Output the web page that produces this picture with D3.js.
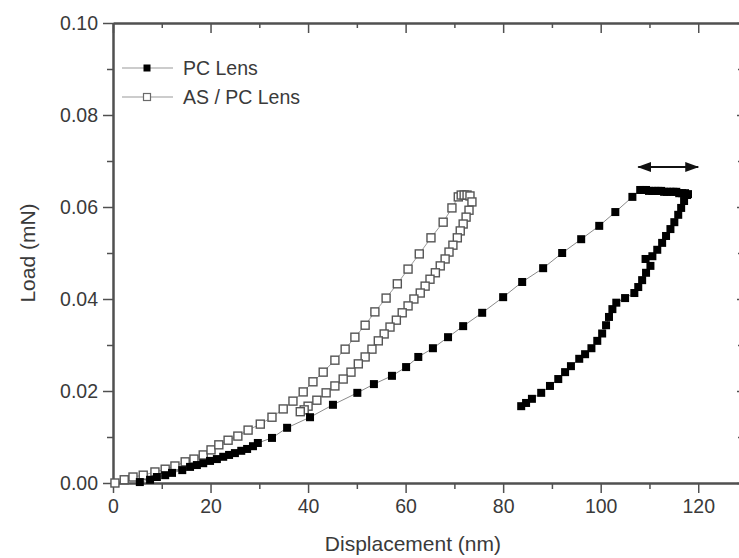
<!DOCTYPE html>
<html>
<head>
<meta charset="utf-8">
<script src="https://cdn.jsdelivr.net/npm/d3@7"></script>
<style>
  body { margin: 0; background: #fff; }
  svg { display: block; font-family: "Liberation Sans", Arial, sans-serif; }
</style>
</head>
<body>
<svg id="chart" width="739" height="558"></svg>
<script>
// PC Lens: loading, hold at max load, unloading
var pcX = [5.5, 7.6, 9.0, 10.7, 12.1, 14.2, 15.8, 17.2, 18.5, 19.9, 21.3, 22.6, 23.8, 25.0, 26.3, 27.5, 28.7, 29.7,
    32.6, 35.7, 40.4, 45.1, 50.1, 53.5, 57.2, 60.1, 62.6, 65.6, 68.7, 71.8, 75.7, 80.0, 83.9, 88.2, 92.1, 96.0, 99.7, 103.0, 106.5,
    108.1, 108.7, 109.3, 109.9, 110.6, 111.2, 111.8, 112.4, 113.0, 113.6, 114.3, 114.9, 115.5, 116.1, 116.7, 117.3, 117.9,
    117.7, 117.1, 116.5, 115.9, 115.1, 114.3, 113.4, 112.6, 111.6, 110.6, 109.2, 110.2, 109.3, 108.5, 107.7, 106.9,
    105.0, 103.2, 102.4, 101.7, 101.1, 100.3, 99.3, 98.1, 96.8, 95.6, 93.9, 92.7, 91.3, 89.6, 87.8, 85.9, 84.7, 83.7];
var pcY = [0.0002, 0.0007, 0.0013, 0.0017, 0.0022, 0.0028, 0.0035, 0.0039, 0.0043, 0.0048, 0.0052, 0.0057, 0.0061, 0.0065, 0.0070, 0.0074, 0.0080, 0.0087,
    0.0098, 0.0120, 0.0143, 0.0170, 0.0196, 0.0215, 0.0233, 0.0252, 0.0274, 0.0293, 0.0317, 0.0341, 0.0370, 0.0404, 0.0437, 0.0467, 0.0500, 0.0530, 0.0559, 0.0589, 0.0622,
    0.0637, 0.0637, 0.0637, 0.0635, 0.0635, 0.0635, 0.0635, 0.0635, 0.0633, 0.0633, 0.0633, 0.0633, 0.0633, 0.0630, 0.0630, 0.0630, 0.0628,
    0.0626, 0.0613, 0.0598, 0.0583, 0.0567, 0.0552, 0.0537, 0.0522, 0.0507, 0.0493, 0.0487, 0.0472, 0.0457, 0.0441, 0.0426, 0.0413,
    0.0402, 0.0392, 0.0378, 0.0361, 0.0343, 0.0325, 0.0309, 0.0293, 0.0280, 0.0270, 0.0254, 0.0241, 0.0226, 0.0211, 0.0196, 0.0183, 0.0174, 0.0167];

// AS / PC Lens
var asX = [0.4, 2.3, 4.1, 6.2, 8.6, 10.7, 12.7, 14.8, 16.6, 18.5, 20.1, 21.7, 23.6, 25.6, 27.7, 30.2, 32.6, 34.9, 36.9, 39.0,
    41.0, 43.1, 45.5, 47.6, 49.6, 51.7, 53.7, 56.0, 58.3, 60.5, 62.8, 65.2, 67.7, 69.5, 70.8,
    71.4, 72.0, 72.6, 73.2,
    73.6, 73.0, 72.4, 71.8, 71.2, 70.6, 69.7, 68.9, 68.1, 67.1, 66.1, 65.0, 64.0, 63.0, 61.7, 60.5, 59.3, 58.1, 56.8, 55.6,
    54.4, 53.1, 51.7, 50.3, 48.8, 47.2, 45.5, 43.7, 41.8, 40.0, 39.2, 38.4];
var asY = [0.0000, 0.0007, 0.0013, 0.0017, 0.0024, 0.0030, 0.0037, 0.0046, 0.0052, 0.0061, 0.0072, 0.0083, 0.0093, 0.0102, 0.0115, 0.0128, 0.0143, 0.0161, 0.0178, 0.0198,
    0.0220, 0.0241, 0.0267, 0.0291, 0.0317, 0.0343, 0.0372, 0.0402, 0.0433, 0.0465, 0.0498, 0.0533, 0.0567, 0.0598, 0.0622,
    0.0626, 0.0626, 0.0626, 0.0624,
    0.0611, 0.0593, 0.0578, 0.0563, 0.0548, 0.0533, 0.0517, 0.0502, 0.0487, 0.0472, 0.0457, 0.0443, 0.0428, 0.0413, 0.0400, 0.0385, 0.0370, 0.0354, 0.0339, 0.0324,
    0.0309, 0.0291, 0.0274, 0.0259, 0.0241, 0.0226, 0.0211, 0.0196, 0.0180, 0.0167, 0.0159, 0.0155];

var xTicks = [0, 20, 40, 60, 80, 100, 120];
var xMinor = [10, 30, 50, 70, 90, 110, 130];
var yTicks = [0, 0.02, 0.04, 0.06, 0.08, 0.10];
var yMinor = [0.01, 0.03, 0.05, 0.07, 0.09];
var seriesNames = ["PC Lens", "AS / PC Lens"];
var arrowX = [107.7, 120], arrowY = 0.0687;

var svg = d3.select("#chart"),
    margin = {top: 23, right: -8, bottom: 75, left: 113},
    width = +svg.attr("width") - margin.left - margin.right,
    height = +svg.attr("height") - margin.top - margin.bottom;

var x = d3.scaleLinear().domain([0, 130]).range([0, width]);
var y = d3.scaleLinear().domain([0, 0.10]).range([height, 0]);

var g = svg.append("g")
    .attr("transform", "translate(" + margin.left + "," + margin.top + ")");

var axisColor = "#505050", textColor = "#3a3a3a";

function styleAxis(sel) {
  sel.select(".domain").attr("stroke", axisColor).attr("stroke-width", 2);
  sel.selectAll(".tick line").attr("stroke", axisColor).attr("stroke-width", 1.5);
  sel.selectAll(".tick text").attr("fill", textColor).style("font-size", "19.5px");
}

// minor ticks first, so the major axes draw over them
g.append("g").attr("transform", "translate(0," + height + ")")
    .call(d3.axisBottom(x).tickValues(xMinor).tickSize(6).tickFormat("").tickSizeOuter(0))
    .call(styleAxis);
g.append("g")
    .call(d3.axisTop(x).tickValues(xMinor).tickSize(-5).tickFormat("").tickSizeOuter(0))
    .call(styleAxis);
g.append("g")
    .call(d3.axisLeft(y).tickValues(yMinor).tickSize(6).tickFormat("").tickSizeOuter(0))
    .call(styleAxis);
g.append("g").attr("transform", "translate(" + width + ",0)")
    .call(d3.axisRight(y).tickValues(yMinor).tickSize(-9).tickFormat("").tickSizeOuter(0))
    .call(styleAxis);

g.append("g")
    .attr("class", "x axis")
    .attr("transform", "translate(0," + height + ")")
    .call(d3.axisBottom(x).tickValues(xTicks).tickSize(10).tickPadding(6).tickSizeOuter(0))
    .call(styleAxis);
g.append("g")
    .call(d3.axisTop(x).tickValues(xTicks).tickSize(-10).tickFormat("").tickSizeOuter(0))
    .call(styleAxis);
g.append("g")
    .attr("class", "y axis")
    .call(d3.axisLeft(y).tickValues(yTicks).tickSize(10).tickPadding(5).tickFormat(d3.format(".2f")).tickSizeOuter(0))
    .call(styleAxis);
g.append("g").attr("transform", "translate(" + width + ",0)")
    .call(d3.axisRight(y).tickValues(yTicks).tickSize(-10).tickFormat("").tickSizeOuter(0))
    .call(styleAxis);

// axis titles
svg.append("text")
    .attr("x", margin.left + x(61.5))
    .attr("y", 551)
    .attr("text-anchor", "middle")
    .attr("fill", textColor)
    .style("font-size", "21px")
    .text("Displacement (nm)");
svg.append("text")
    .attr("transform", "translate(35," + (margin.top + height / 2) + ") rotate(-90)")
    .attr("text-anchor", "middle")
    .attr("fill", textColor)
    .style("font-size", "21px")
    .text("Load (mN)");

var line = d3.line()
    .x(function (d) { return x(d[0]); })
    .y(function (d) { return y(d[1]); });

var pcData = pcX.map(function (v, i) { return [v, pcY[i]]; });
var asData = asX.map(function (v, i) { return [v, asY[i]]; });

g.append("path").datum(asData)
    .attr("d", line).attr("fill", "none").attr("stroke", "#9a9a9a").attr("stroke-width", 1);
g.append("path").datum(pcData)
    .attr("d", line).attr("fill", "none").attr("stroke", "#8a8a8a").attr("stroke-width", 1);

var s = 8;
g.selectAll(".as")
    .data(asData)
    .enter().append("rect")
    .attr("class", "as")
    .attr("x", function (d) { return x(d[0]) - s / 2; })
    .attr("y", function (d) { return y(d[1]) - s / 2; })
    .attr("width", s).attr("height", s)
    .attr("fill", "#fff")
    .attr("stroke", "#555")
    .attr("stroke-width", 1.4);

g.selectAll(".pc")
    .data(pcData)
    .enter().append("rect")
    .attr("class", "pc")
    .attr("x", function (d) { return x(d[0]) - s / 2; })
    .attr("y", function (d) { return y(d[1]) - s / 2; })
    .attr("width", s).attr("height", s)
    .attr("fill", "#000");

// double arrow above the hold segment
var defs = svg.append("defs");
defs.append("marker")
    .attr("id", "head")
    .attr("viewBox", "0 0 14 10")
    .attr("refX", 13).attr("refY", 5)
    .attr("markerUnits", "userSpaceOnUse")
    .attr("markerWidth", 14).attr("markerHeight", 10)
    .attr("orient", "auto-start-reverse")
    .append("path").attr("d", "M0,0L14,5L0,10Z").attr("fill", "#111");
g.append("line")
    .attr("x1", x(arrowX[0])).attr("x2", x(arrowX[1]))
    .attr("y1", y(arrowY)).attr("y2", y(arrowY))
    .attr("stroke", "#111").attr("stroke-width", 2)
    .attr("marker-start", "url(#head)")
    .attr("marker-end", "url(#head)");

// legend
var legend = g.selectAll(".legend")
    .data(seriesNames)
    .enter().append("g")
    .attr("class", "legend")
    .attr("transform", function (d, i) { return "translate(9," + (45 + i * 29) + ")"; });
legend.append("line")
    .attr("x1", 0).attr("x2", 51)
    .attr("stroke", "#9a9a9a").attr("stroke-width", 1.2);
legend.append("rect")
    .attr("x", 25 - 3.5).attr("y", -3.5)
    .attr("width", 7).attr("height", 7)
    .attr("fill", function (d, i) { return i === 0 ? "#000" : "#fff"; })
    .attr("stroke", function (d, i) { return i === 0 ? "none" : "#6a6a6a"; })
    .attr("stroke-width", 1.2);
legend.append("text")
    .attr("x", 61).attr("y", 7)
    .attr("fill", textColor)
    .style("font-size", "19.5px")
    .text(function (d) { return d; });
</script>
</body>
</html>
